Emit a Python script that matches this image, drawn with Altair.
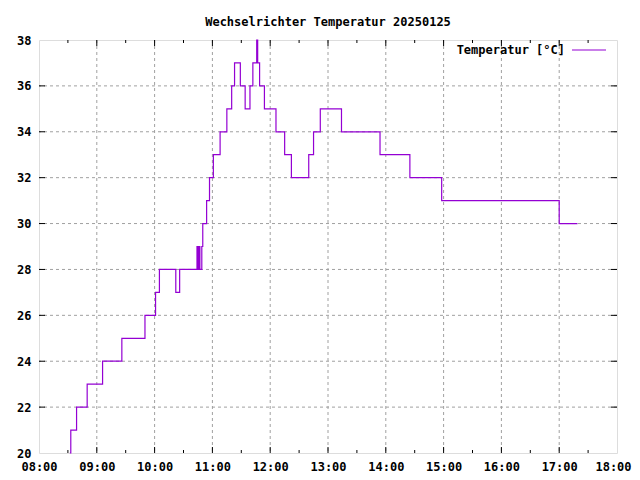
import altair as alt
import pandas as pd

# change points of the temperature series (step plot)
times = ["08:32", "08:33", "08:39", "08:50", "09:06", "09:26", "09:50", "10:01", "10:05", "10:22",
         "10:26", "10:44", "10:45", "10:46", "10:47", "10:49", "10:50", "10:54", "10:57", "11:01",
         "11:08", "11:15", "11:20", "11:23", "11:29", "11:34", "11:39", "11:42", "11:46", "11:47",
         "11:49", "11:54", "12:06", "12:15", "12:22", "12:40", "12:45", "12:52", "13:14", "13:54",
         "14:25", "14:58", "17:00", "17:19"]
temps = [20, 21, 22, 23, 24, 25, 26, 27, 28, 27,
         28, 29, 28, 29, 28, 29, 30, 31, 32, 33,
         34, 35, 36, 37, 36, 35, 36, 37, 38, 37,
         36, 35, 34, 33, 32, 33, 34, 35, 34, 33,
         32, 31, 30, 30]

x_major = [8, 9, 10, 11, 12, 13, 14, 15, 16, 17, 18]
x_minor = [8.5, 9.5, 10.5, 11.5, 12.5, 13.5, 14.5, 15.5, 16.5, 17.5]
y_major = [20, 22, 24, 26, 28, 30, 32, 34, 36, 38]

title = "Wechselrichter Temperatur 20250125"
legend_label = "Temperatur [°C]"

W, H = 578, 413
FONT = "DejaVu Sans Mono"
PURPLE = "#9400d3"
GRID = "#a0a0a0"

def to_h(s):
    h, m = s.split(":")
    return int(h) + int(m) / 60.0

df = pd.DataFrame({"h": [to_h(t) for t in times], "t": temps})
xs = alt.Scale(domain=[8, 18], nice=False, zero=False)
ys = alt.Scale(domain=[20, 38], nice=False, zero=False)

xinner = pd.DataFrame({"h": x_major[1:-1]})
xmin = pd.DataFrame({"h": x_minor})
yinner = pd.DataFrame({"t": y_major[1:-1]})

grid_x = alt.Chart(xinner).mark_rule(color=GRID, strokeDash=[3, 3], strokeWidth=1).encode(
    x=alt.X("h:Q", scale=xs, axis=alt.Axis(values=x_major, labelExpr="(datum.value < 10 ? '0' : '') + datum.value + ':00'",
                                           grid=False, ticks=False, domain=False, labelPadding=8,
                                           labelFlush=False, labelOverlap=False,
                                           labelOffset={"condition": {"test": "datum.value == 18", "value": -4}, "value": 0},
                                           labelFont=FONT, labelFontSize=12, labelFontWeight="bold",
                                           labelColor="black", title=None))
)
grid_y = alt.Chart(yinner).mark_rule(color=GRID, strokeDash=[3, 3], strokeWidth=1).encode(
    y=alt.Y("t:Q", scale=ys, axis=alt.Axis(values=y_major, grid=False, ticks=False, domain=False,
                                           labelPadding=8, labelFlush=False, labelOverlap=False,
                                           labelFont=FONT, labelFontSize=12,
                                           labelFontWeight="bold", labelColor="black", title=None))
)

line = alt.Chart(df).mark_line(color=PURPLE, strokeWidth=1.2, interpolate="step-after").encode(
    x=alt.X("h:Q", scale=xs), y=alt.Y("t:Q", scale=ys)
)

def xt(d, y0, y1):
    return alt.Chart(d).mark_rule(color="black", strokeWidth=1).encode(
        x=alt.X("h:Q", scale=xs), y=alt.value(y0), y2=alt.value(y1))

def yt(d, x0, x1):
    return alt.Chart(d).mark_rule(color="black", strokeWidth=1).encode(
        y=alt.Y("t:Q", scale=ys), x=alt.value(x0), x2=alt.value(x1))

ticks = [
    xt(xinner, H, H - 6), xt(xinner, 0, 6),
    xt(xmin, H, H - 3), xt(xmin, 0, 3),
    yt(yinner, 0, 6), yt(yinner, W, W - 6),
]

leg_text = alt.Chart(pd.DataFrame({"label": [legend_label]})).mark_text(
    align="right", baseline="middle", font=FONT, fontSize=12, fontWeight="bold", color="black"
).encode(text="label:N", x=alt.value(526), y=alt.value(10))
leg_line = alt.Chart(pd.DataFrame({"label": [legend_label]})).mark_rule(color=PURPLE, strokeWidth=1.2).encode(
    x=alt.value(533), x2=alt.value(567), y=alt.value(10))

chart = alt.layer(grid_x, grid_y, line, *ticks, leg_text, leg_line).properties(
    width=W, height=H,
    title=alt.TitleParams(title, font=FONT, fontSize=12, fontWeight="bold", color="black",
                          anchor="middle", offset=5),
    autosize=alt.AutoSizeParams(type="none"),
    padding={"left": 31, "top": 32, "right": 15, "bottom": 19},
).configure_view(stroke="black", strokeWidth=1).configure(background="white")

chart.save("out.html", embed_options={"renderer": "svg", "actions": False})
